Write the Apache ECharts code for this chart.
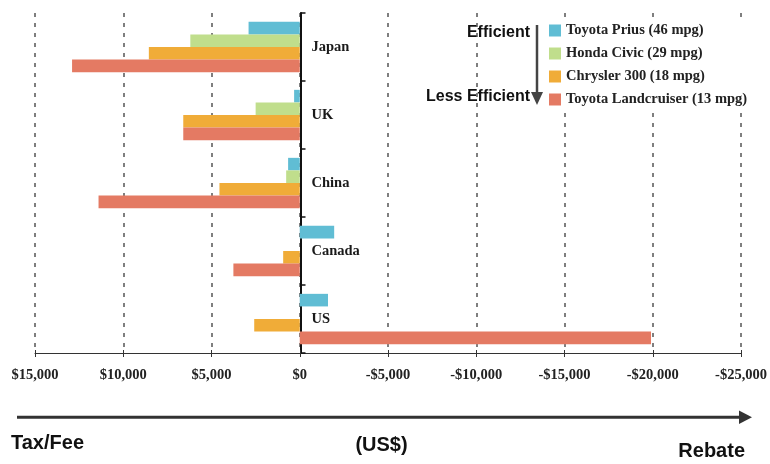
<!DOCTYPE html>
<html>
<head>
<meta charset="UTF-8">
<title>Vehicle tax and rebate by country</title>
<script src="https://cdn.jsdelivr.net/npm/echarts@6/dist/echarts.min.js"></script>
</head>
<body style="margin:0">
<div id="main" style="width:770px;height:464px;"></div>
<script type="text/javascript">
// countries, top to bottom
var categories = ['Japan', 'UK', 'China', 'Canada', 'US'];
// US$, positive = tax/fee, negative = rebate
var prius = [2900, 320, 660, -1950, -1600];
var civic = [6200, 2500, 770, 0, 0];
var chrysler = [8550, 6600, 4550, 940, 2580];
var landcruiser = [12900, 6600, 11400, 3760, -19900];
var seriesNames = ['Toyota Prius (46 mpg)', 'Honda Civic (29 mpg)', 'Chrysler 300 (18 mpg)', 'Toyota Landcruiser (13 mpg)'];
var seriesColors = ['#60bdd4', '#c0de8c', '#f0ac38', '#e47a63'];

var myChart = echarts.init(document.getElementById('main'));

var serif = '"Liberation Serif", "Times New Roman", serif';
var sans = '"Liberation Sans", Arial, sans-serif';

function money(v) {
    var s = String(Math.abs(v)).replace(/\B(?=(\d{3})+(?!\d))/g, ',');
    return (v < 0 ? '-$' : '$') + s;
}

var series = [prius, civic, chrysler, landcruiser].map(function (d, i) {
    return {
        name: seriesNames[i],
        type: 'bar',
        data: d,
        barGap: '0%',
        barCategoryGap: '26%',
        itemStyle: {color: seriesColors[i]},
        emphasis: {disabled: true}
    };
});

var option = {
    animation: false,
    grid: {left: 35, right: 27, top: 13, bottom: 111},
    legend: {
        orient: 'vertical',
        left: 544,
        top: 18,
        padding: [5, 6, 5, 5],
        backgroundColor: '#fff',
        itemWidth: 12,
        itemHeight: 12,
        itemGap: 8,
        icon: 'rect',
        data: seriesNames,
        textStyle: {fontFamily: serif, fontWeight: 'bold', fontSize: 14.5, color: '#222'}
    },
    xAxis: [{
        type: 'value',
        inverse: true,
        min: -25000,
        max: 15000,
        interval: 5000,
        axisLine: {show: true, lineStyle: {color: '#333', width: 1}},
        axisTick: {show: true, length: 4, lineStyle: {color: '#333'}},
        axisLabel: {
            margin: 15,
            fontFamily: serif, fontWeight: 'bold', fontSize: 14.5, color: '#222',
            formatter: money
        },
        splitLine: {show: true, lineStyle: {color: '#555', width: 1.5, type: [4, 6]}}
    }, {
        type: 'value',
        inverse: true,
        min: -25000,
        max: 15000,
        interval: 5000,
        position: 'bottom',
        axisLine: {show: false},
        axisTick: {show: true, inside: true, length: 3, lineStyle: {color: '#333'}},
        axisLabel: {show: false},
        splitLine: {show: false}
    }],
    yAxis: {
        type: 'category',
        inverse: true,
        data: categories,
        position: 'left',
        // sits on the $0 line: 15000 of 40000 across the grid width
        offset: -(770 - 35 - 27) * 15000 / 40000,
        axisLine: {show: true, onZero: false, lineStyle: {color: '#111', width: 2}},
        axisTick: {show: true, inside: true, length: 5, lineStyle: {color: '#111', width: 1.5}},
        axisLabel: {inside: true, margin: 11, fontFamily: serif, fontWeight: 'bold', fontSize: 14.5, color: '#1a1a1a'}
    },
    series: series,
    graphic: [
        {type: 'text', x: 530, y: 32.5, style: {text: 'Efficient', align: 'right', verticalAlign: 'middle', font: 'bold 16px ' + sans, fill: '#111'}},
        {type: 'text', x: 530, y: 97, style: {text: 'Less Efficient', align: 'right', verticalAlign: 'middle', font: 'bold 16px ' + sans, fill: '#111'}},
        {type: 'line', shape: {x1: 537, y1: 25, x2: 537, y2: 93}, style: {stroke: '#444', lineWidth: 2.5}},
        {type: 'polygon', shape: {points: [[531, 92], [543, 92], [537, 105]]}, style: {fill: '#444'}},
        {type: 'line', shape: {x1: 17, y1: 417.3, x2: 741, y2: 417.3}, style: {stroke: '#333', lineWidth: 3}},
        {type: 'polygon', shape: {points: [[739, 410.5], [752, 417.3], [739, 424]]}, style: {fill: '#333'}},
        {type: 'text', x: 11, y: 443, style: {text: 'Tax/Fee', align: 'left', verticalAlign: 'middle', font: 'bold 20px ' + sans, fill: '#111'}},
        {type: 'text', x: 381.5, y: 445, style: {text: '(US$)', align: 'center', verticalAlign: 'middle', font: 'bold 20px ' + sans, fill: '#111'}},
        {type: 'text', x: 745, y: 451.5, style: {text: 'Rebate', align: 'right', verticalAlign: 'middle', font: 'bold 20px ' + sans, fill: '#111'}}
    ]
};

myChart.setOption(option);
</script>
</body>
</html>
